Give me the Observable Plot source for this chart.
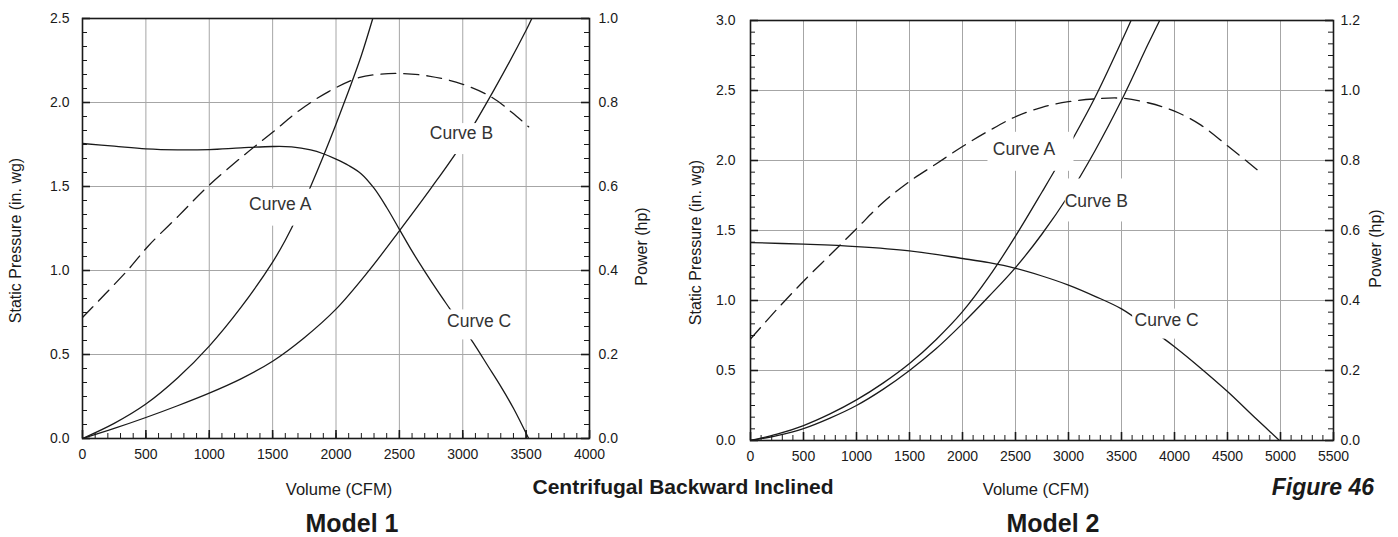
<!DOCTYPE html>
<html><head><meta charset="utf-8">
<script src="https://cdn.jsdelivr.net/npm/d3@7"></script>
<script src="https://cdn.jsdelivr.net/npm/@observablehq/plot@0.6"></script>
<style>
body{margin:0;background:#fff;}
#wrap{position:relative;width:1398px;height:537px;overflow:hidden;font-family:"Liberation Sans",Arial,Helvetica,sans-serif;color:#1a1a1a;}
.chart{position:absolute;top:0;}
.chart svg{overflow:visible;}
.t{position:absolute;white-space:nowrap;transform:translate(-50%,-50%);line-height:1;}
</style></head><body><div id="wrap"></div>
<script>
// ---------- Model 1 data ----------
const m1XTicks = [0, 500, 1000, 1500, 2000, 2500, 3000, 3500, 4000];
const m1SPTicks = [0, 0.5, 1.0, 1.5, 2.0, 2.5];
const m1HPTicks = [0, 0.2, 0.4, 0.6, 0.8, 1.0];
const m1A_cfm = [0, 250, 500, 750, 1000, 1250, 1500, 1600, 1700, 1800, 1900, 2000, 2100, 2200, 2290];
const m1A_sp  = [0, 0.09, 0.205, 0.36, 0.55, 0.78, 1.05, 1.18, 1.33, 1.50, 1.68, 1.87, 2.07, 2.28, 2.5];
const m1B_cfm = [0, 250, 500, 750, 1000, 1250, 1500, 1750, 2000, 2250, 2500, 2750, 3000, 3250, 3500, 3545];
const m1B_sp  = [0, 0.06, 0.125, 0.195, 0.27, 0.355, 0.46, 0.60, 0.77, 0.99, 1.236, 1.49, 1.76, 2.08, 2.43, 2.5];
const m1C_cfm = [0, 250, 500, 750, 1000, 1250, 1500, 1650, 1800, 1900, 2000, 2100, 2200, 2300, 2400, 2500, 2600, 2700, 2800, 2900, 3000, 3100, 3200, 3300, 3400, 3520];
const m1C_sp  = [1.756, 1.74, 1.724, 1.718, 1.720, 1.730, 1.738, 1.736, 1.718, 1.695, 1.663, 1.625, 1.575, 1.49, 1.375, 1.245, 1.115, 0.995, 0.88, 0.77, 0.66, 0.55, 0.43, 0.31, 0.18, 0];
const m1P_cfm = [0, 179, 363, 521, 758, 995, 1284, 1500, 1705, 1942, 2179, 2337, 2500, 2732, 2995, 3232, 3389, 3520];
const m1P_hp  = [0.288, 0.344, 0.403, 0.459, 0.530, 0.602, 0.677, 0.729, 0.780, 0.826, 0.859, 0.867, 0.869, 0.863, 0.844, 0.812, 0.776, 0.742];
const m1Labels = ["Curve A", "Curve B", "Curve C"];
const m1Label_cfm = [1560, 2990, 3129];
const m1Label_sp  = [1.395, 1.815, 0.70];

// ---------- Model 2 data ----------
const m2XTicks = [0, 500, 1000, 1500, 2000, 2500, 3000, 3500, 4000, 4500, 5000, 5500];
const m2SPTicks = [0, 0.5, 1.0, 1.5, 2.0, 2.5, 3.0];
const m2HPTicks = [0, 0.2, 0.4, 0.6, 0.8, 1.0, 1.2];
const m2A_cfm = [0, 250, 500, 750, 1000, 1250, 1500, 1750, 2000, 2250, 2500, 2750, 3000, 3250, 3500, 3590];
const m2A_sp  = [0, 0.045, 0.107, 0.19, 0.29, 0.41, 0.55, 0.72, 0.92, 1.17, 1.46, 1.775, 2.10, 2.45, 2.85, 3.0];
const m2B_cfm = [0, 250, 500, 750, 1000, 1250, 1500, 1750, 2000, 2250, 2500, 2750, 3000, 3250, 3500, 3750, 3860];
const m2B_sp  = [0, 0.035, 0.085, 0.16, 0.25, 0.365, 0.50, 0.655, 0.835, 1.03, 1.235, 1.475, 1.75, 2.07, 2.43, 2.83, 3.0];
const m2C_cfm = [0, 500, 1000, 1500, 2000, 2250, 2500, 2750, 3000, 3250, 3500, 3750, 4000, 4250, 4500, 4750, 4990];
const m2C_sp  = [1.414, 1.402, 1.385, 1.355, 1.300, 1.27, 1.23, 1.175, 1.11, 1.03, 0.94, 0.81, 0.67, 0.515, 0.35, 0.17, 0];
const m2P_cfm = [0, 250, 500, 750, 1000, 1250, 1500, 1750, 2000, 2250, 2500, 2750, 3000, 3250, 3500, 3750, 4000, 4250, 4500, 4795];
const m2P_hp  = [0.29, 0.375, 0.455, 0.53, 0.605, 0.68, 0.74, 0.79, 0.84, 0.885, 0.925, 0.952, 0.968, 0.976, 0.978, 0.965, 0.941, 0.901, 0.842, 0.77];
const m2Labels = ["Curve A", "Curve B", "Curve C"];
const m2Label_cfm = [2580, 3262, 3926];
const m2Label_sp  = [2.080, 1.711, 0.860];

// ---------- text ----------
const xTitle = "Volume (CFM)";
const spTitle = "Static Pressure (in. wg)";
const hpTitle = "Power (hp)";
const centerTitle = "Centrifugal Backward Inclined";
const figTitle = "Figure 46";
const modelTitles = ["Model 1", "Model 2"];

const INK = "#1a1a1a";
const GRID = "#a6a6a6";

function pts(xs, ys, k = 1) { return xs.map((x, i) => ({x, y: ys[i] * k})); }

function chart(cfg) {
  const {width, height, ml, mr, mt, mb, xMax, spMax, hpMax, xTicks, spTicks, hpTicks,
         A, B, C, P, labels, lx, ly, boxes, padL, padR, spDx, hpDx} = cfg;
  const ratio = spMax / hpMax;
  const plotW = width - ml - mr, plotH = height - mt - mb;
  const kx = xMax / plotW, ky = spMax / plotH; // data units per pixel
  const minorX = d3.range(0, xMax + 1, 100);
  const minorY = d3.range(0, 6 * spMax / 0.5 + 1).map(i => i * 0.5 / 6);
  const lineOpts = {x: "x", y: "y", curve: "catmull-rom", stroke: INK, strokeWidth: 1.3, clip: true};
  const idx = labels.map((d, i) => i);
  return Plot.plot({
    width, height, marginLeft: ml, marginRight: mr, marginTop: mt, marginBottom: mb,
    x: {domain: [0, xMax]},
    y: {domain: [0, spMax]},
    style: {fontFamily: '"Liberation Sans", Arial, Helvetica, sans-serif', fontSize: "14px", color: INK, background: "transparent"},
    marks: [
      Plot.ruleX(xTicks.slice(1, -1), {stroke: GRID, strokeWidth: 1}),
      Plot.ruleY(spTicks.slice(1, -1), {stroke: GRID, strokeWidth: 1}),
      Plot.line(pts(A.x, A.y), lineOpts),
      Plot.line(pts(B.x, B.y), lineOpts),
      Plot.line(pts(C.x, C.y), lineOpts),
      Plot.line(pts(P.x, P.y, ratio), {...lineOpts, strokeDasharray: "15,8"}),
      // white label boxes (padding given in pixels around each label)
      Plot.rect(idx, {
        x1: i => lx[i] + boxes[i][0] * kx, x2: i => lx[i] + boxes[i][1] * kx,
        y1: i => ly[i] - boxes[i][3] * ky, y2: i => ly[i] - boxes[i][2] * ky,
        fill: "white", clip: true}),
      Plot.text(labels, {x: (d, i) => lx[i], y: (d, i) => ly[i], text: d => d, fontSize: 17.5, fill: "#333"}),
      // inward ticks
      Plot.tickX(minorX, {x: d => d, insetTop: plotH - 5, stroke: INK, strokeWidth: 1}),
      Plot.tickX(xTicks, {x: d => d, insetTop: plotH - 8, stroke: INK, strokeWidth: 1.6}),
      Plot.tickY(minorY, {y: d => d, insetRight: plotW - 5, stroke: INK, strokeWidth: 1}),
      Plot.tickY(minorY, {y: d => d, insetLeft: plotW - 5, stroke: INK, strokeWidth: 1}),
      Plot.tickY(spTicks, {y: d => d, insetRight: plotW - 8, stroke: INK, strokeWidth: 1.6}),
      Plot.tickY(spTicks, {y: d => d, insetLeft: plotW - 8, stroke: INK, strokeWidth: 1.6}),
      Plot.frame({stroke: INK, strokeWidth: 1.6}),
      Plot.axisX(xTicks, {tickSize: 0, tickPadding: 11, label: null, fontSize: 14, tickFormat: d => String(d)}),
      Plot.axisY(spTicks, {anchor: "left", tickSize: 0, tickPadding: padL, tickFormat: d => d.toFixed(1), label: null, fontSize: 14}),
      Plot.axisY(hpTicks.map(h => h * ratio), {anchor: "right", tickSize: 0, tickPadding: padR,
        tickFormat: d => (d / ratio).toFixed(1), label: null, fontSize: 14}),
      Plot.text([spTitle], {frameAnchor: "left", textAnchor: "middle", dx: spDx, dy: 12, rotate: -90, fontSize: 16, fill: INK}),
      Plot.text([hpTitle], {frameAnchor: "right", textAnchor: "middle", dx: hpDx, dy: 18, rotate: -90, fontSize: 16, fill: INK})
    ]
  });
}

const wrap = document.getElementById("wrap");
function place(node, left) {
  const d = document.createElement("div");
  d.className = "chart"; d.style.left = left + "px";
  d.appendChild(node); wrap.appendChild(d);
}
place(chart({
  width: 690, height: 470, ml: 82, mr: 101, mt: 18, mb: 32,
  xMax: 4000, spMax: 2.5, hpMax: 1.0, xTicks: m1XTicks, spTicks: m1SPTicks, hpTicks: m1HPTicks,
  A: {x: m1A_cfm, y: m1A_sp}, B: {x: m1B_cfm, y: m1B_sp}, C: {x: m1C_cfm, y: m1C_sp}, P: {x: m1P_cfm, y: m1P_hp},
  labels: m1Labels, lx: m1Label_cfm, ly: m1Label_sp,
  boxes: [[-36, 36, -15, 22], [-36, 36, -10, 21], [-36, 36, -11, 19]],
  padL: 13, padR: 9, spDx: -67, hpDx: 52
}), 0);
place(chart({
  width: 718, height: 472, ml: 70, mr: 65, mt: 20, mb: 32,
  xMax: 5500, spMax: 3.0, hpMax: 1.2, xTicks: m2XTicks, spTicks: m2SPTicks, hpTicks: m2HPTicks,
  A: {x: m2A_cfm, y: m2A_sp}, B: {x: m2B_cfm, y: m2B_sp}, C: {x: m2C_cfm, y: m2C_sp}, P: {x: m2P_cfm, y: m2P_hp},
  labels: m2Labels, lx: m2Label_cfm, ly: m2Label_sp,
  boxes: [[-36, 50, -17, 22], [-31, 36, -22, 21], [-34, 36, -11, 19]],
  padL: 15, padR: 7, spDx: -55, hpDx: 42
}), 680);

function txt(s, x, y, css) {
  const d = document.createElement("div");
  d.className = "t"; d.textContent = s;
  d.style.left = x + "px"; d.style.top = y + "px";
  Object.assign(d.style, css);
  wrap.appendChild(d);
  return d;
}
txt(xTitle, 339, 489, {fontSize: "16.5px"});
txt(xTitle, 1036, 489, {fontSize: "16.5px"});
txt(modelTitles[0], 352, 523, {fontSize: "25px", fontWeight: "bold"});
txt(modelTitles[1], 1053, 523, {fontSize: "25px", fontWeight: "bold"});
txt(centerTitle, 683, 486, {fontSize: "21px", fontWeight: "bold"});
const f = txt(figTitle, 0, 487, {fontSize: "23px", fontWeight: "bold", fontStyle: "italic"});
f.style.left = "auto"; f.style.right = "24px"; f.style.transform = "translateY(-50%)";
</script></body></html>
